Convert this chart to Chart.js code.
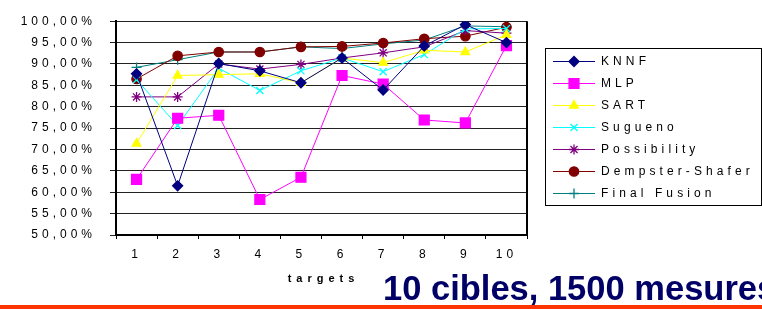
<!DOCTYPE html>
<html>
<head>
<meta charset="utf-8">
<script src="https://cdn.jsdelivr.net/npm/chart.js@4/dist/chart.umd.min.js"></script>
<style>
  html, body { margin: 0; padding: 0; background: #fff; }
  #wrap { position: relative; width: 762px; height: 309px; overflow: hidden; }
  #title {
    position: absolute; left: 383px; top: 271px; white-space: nowrap;
    font: bold 34.5px "Liberation Sans", Arial, sans-serif; line-height: 34px; color: #000066;
  }
  #rule { position: absolute; left: 0; top: 305px; width: 762px; height: 4px; background: #ff3300; }
</style>
</head>
<body>
<div id="wrap">
  <canvas id="chart" width="762" height="309"></canvas>
  <div id="title">10 cibles, 1500 mesures</div>
  <div id="rule"></div>
</div>
<script>
// values (percent)
const targets = ['1', '2', '3', '4', '5', '6', '7', '8', '9', '10'];
const knnf = [87.7, 61.5, 90.1, 88.4, 85.6, 91.4, 83.9, 94.2, 99.2, 95.0];
const mlp = [63.0, 77.3, 78.0, 58.3, 63.5, 87.3, 85.3, 76.9, 76.2, 94.3];
const sart = [71.4, 87.3, 87.5, 87.7, 85.6, 91.4, 90.3, 93.2, 92.8, 96.8];
const sugueno = [86.3, 75.6, 89.0, 83.8, 88.4, 91.4, 88.2, 92.2, 98.2, 98.3];
const possibility = [82.3, 82.3, 90.0, 88.8, 89.9, 91.4, 92.6, 94.0, 97.8, 97.2];
const dempsterShafer = [86.5, 91.9, 92.8, 92.8, 94.0, 94.1, 94.9, 95.9, 96.5, 98.6];
const finalFusion = [89.2, 91.0, 92.8, 92.8, 94.0, 93.6, 94.7, 95.6, 98.9, 98.7];

const FONT = '"Liberation Sans", Arial, sans-serif';

function series(label, data, color, pointStyle, radius) {
  return {
    label, data,
    borderColor: color, backgroundColor: color,
    pointBackgroundColor: color, pointBorderColor: color,
    borderWidth: 1, pointStyle, pointRadius: radius, pointBorderWidth: 1.3,
    pointHoverRadius: radius, tension: 0,
  };
}

const datasets = [
  series('KNNF', knnf, '#000080', 'rectRot', 5),
  series('MLP', mlp, '#ff00ff', 'rect', 7),
  series('SART', sart, '#ffff00', 'triangle', 5),
  series('Sugueno', sugueno, '#00ffff', 'crossRot', 5),
  series('Possibility', possibility, '#800080', 'star', 5),
  series('Dempster-Shafer', dempsterShafer, '#800000', 'circle', 4.7),
  series('Final Fusion', finalFusion, '#008080', 'cross', 5),
];

function fmtPct(v) {
  return v.toFixed(2).replace('.', ',') + '%';
}

// canvas letter spacing, reset whenever the canvas is resized
const spacing = {
  id: 'spacing',
  beforeLayout(chart) { chart.ctx.letterSpacing = '4px'; },
  beforeDraw(chart) { chart.ctx.letterSpacing = '4px'; },
};

// right frame, axis title and the boxed legend
const extras = {
  id: 'extras',
  afterDraw(chart) {
    const ctx = chart.ctx;
    const a = chart.chartArea;
    ctx.save();
    ctx.strokeStyle = '#000';
    ctx.lineWidth = 2;
    ctx.beginPath();
    ctx.moveTo(a.right, a.top);
    ctx.lineTo(a.right, a.bottom);
    ctx.stroke();

    ctx.fillStyle = '#000';
    ctx.font = 'bold 11px ' + FONT;
    ctx.letterSpacing = '5px';
    ctx.textAlign = 'center';
    ctx.textBaseline = 'middle';
    ctx.fillText('targets', (a.left + a.right) / 2 + 2, 279);

    ctx.letterSpacing = '4.1px';
    ctx.lineWidth = 1;
    ctx.strokeStyle = '#000';
    ctx.strokeRect(545.5, 48.5, 216, 157);
    ctx.font = '12px ' + FONT;
    ctx.textAlign = 'left';
    chart.data.datasets.forEach((ds, i) => {
      const y = 61 + i * 22;
      ctx.strokeStyle = ds.borderColor;
      ctx.lineWidth = 1;
      ctx.beginPath();
      ctx.moveTo(553, y + 0.5);
      ctx.lineTo(595, y + 0.5);
      ctx.stroke();
      ctx.fillStyle = ds.borderColor;
      ctx.lineWidth = 1.3;
      Chart.helpers.drawPoint(ctx, { pointStyle: ds.pointStyle, radius: ds.pointRadius, rotation: 0, borderWidth: 1.3 }, 574, y + 0.5);
      ctx.fillStyle = '#000';
      ctx.fillText(ds.label, 601, y + 1);
    });
    ctx.restore();
  },
};

new Chart(document.getElementById('chart'), {
  type: 'line',
  data: { labels: targets, datasets },
  options: {
    responsive: false,
    animation: false,
    layout: { padding: { left: 0, top: 17, right: 235, bottom: 0 } },
    plugins: { legend: { display: false }, tooltip: { enabled: false } },
    scales: {
      x: {
        offset: true,
        afterFit: (s) => { s.height = 74; },
        grid: { offset: true, drawOnChartArea: false, tickLength: 4, color: '#000', lineWidth: 1 },
        border: { color: '#000', width: 2 },
        ticks: { color: '#000', font: { family: FONT, size: 12 }, padding: 8, maxRotation: 0 },
      },
      y: {
        min: 50, max: 100,
        afterFit: (s) => { s.width = 116; },
        grid: { color: '#222', lineWidth: 1, tickLength: 6 },
        border: { color: '#000', width: 2 },
        ticks: { stepSize: 5, color: '#000', font: { family: FONT, size: 12 }, padding: 14, callback: (v) => fmtPct(v) },
      },
    },
  },
  plugins: [spacing, extras],
});
</script>
</body>
</html>
